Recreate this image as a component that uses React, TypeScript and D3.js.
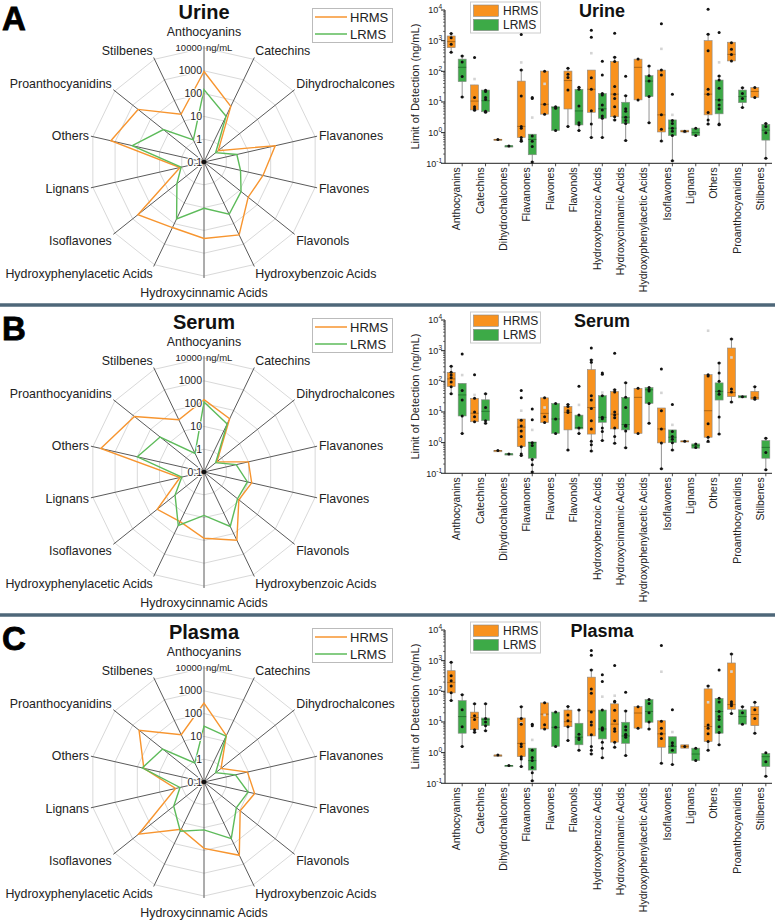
import React from "react";
import * as d3 from "d3";

const W = 775;
const H = 923;

const CATEGORIES = [
  "Anthocyanins", "Catechins", "Dihydrochalcones", "Flavanones", "Flavones", "Flavonols",
  "Hydroxybenzoic Acids", "Hydroxycinnamic Acids", "Hydroxyphenylacetic Acids", "Isoflavones",
  "Lignans", "Others", "Proanthocyanidins", "Stilbenes",
];
const METHODS = ["HRMS", "LRMS"];
const PANEL_LETTERS = ["A", "B", "C"];
const PANEL_TITLES = ["Urine", "Serum", "Plasma"];
const RADAR_TICKS = [0.1, 1, 10, 100, 1000, 10000];
const RADAR_TICK_LABELS = ["0.1", "1", "10", "100", "1000", "10000"];
const LOG_TICKS = [0.1, 1, 10, 100, 1000, 10000];
const LOG_TICK_EXP = ["-1", "0", "1", "2", "3", "4"];

// Radar values (ng/mL)
const URINE_RADAR_HRMS = [930, 51, 0.63, 160, 45, 30, 355, 225, 155, 510, 1.2, 1550, 500, 21];
const URINE_RADAR_LRMS = [150, 17, 0.45, 3, 4.4, 12, 35, 10.7, 59, 3.3, 1.07, 170, 19, 1.2];
const SERUM_RADAR_HRMS = [150, 39, 0.53, 10, 14, 9, 210, 81, 26, 42, 1.2, 4400, 800, 35];
const SERUM_RADAR_LRMS = [117, 22, 0.45, 2.8, 9, 7.6, 45, 8, 40, 4.2, 1.0, 100, 29, 0.8];
const PLASMA_RADAR_HRMS = [290, 18, 0.9, 9, 19, 10.7, 370, 81, 20, 470, 1.9, 51, 440, 20];
const PLASMA_RADAR_LRMS = [28, 17, 0.45, 2.6, 9.6, 6.5, 57, 12.6, 25, 5, 1.2, 60, 21, 0.85];

// Box stats: [whiskerLow, q1, median, q3, whiskerHigh]
const URINE_HRMS_BOX = [
  [415, 590, 930, 1420, 1700], [5.4, 5.5, 10.7, 36, 36], [0.6, 0.6, 0.6, 0.6, 0.6],
  [0.52, 0.69, 1.6, 48, 110], [4, 4, 8.4, 102, 102], [1.6, 5.9, 50, 102, 125],
  [0.7, 4.6, 26, 110, 110], [2.6, 3.3, 18, 210, 290], [11.7, 11.7, 135, 250, 250],
  [0.53, 1.05, 3.8, 110, 110], [1.0, 1.05, 1.1, 1.2, 1.2], [1.9, 3.8, 18, 1000, 1620],
  [218, 218, 357, 890, 890], [14, 14, 22, 29.5, 29.5],
];
const URINE_HRMS_PTS = [
  [1700, 1250, 760, 415], [280, 14, 7, 6, 5.4], [0.6], [1580, 110, 15.8, 1.6, 1.4, 0.7, 0.58, 0.52],
  [100, 8.4, 4], [125, 81, 63, 24.5, 1.6], [2180, 1280, 62, 26, 5.2, 1.9, 0.7],
  [1730, 290, 210, 32, 18, 13, 7, 3.3, 2.6], [250, 11.7], [3560, 110, 76, 3.8, 1.3, 0.53],
  [1.1], [10500, 1620, 470, 26, 18, 4.5, 2.6, 1.9], [850, 520, 357, 218], [29.5, 14],
];
const URINE_HRMS_MEAN = [null, 56, null, 195, 39, null, 390, null, null, 540, null, null, null, null];
const URINE_LRMS_BOX = [
  [14.5, 46, 135, 250, 316], [4.6, 4.8, 11, 24.5, 24.5], [0.37, 0.37, 0.37, 0.37, 0.37],
  [0.11, 0.19, 0.6, 0.89, 0.89], [1.17, 1.17, 6.5, 7, 7], [1.17, 1.78, 5.1, 26, 30],
  [0.7, 2.95, 6, 19, 19], [0.55, 2.0, 3.2, 9.8, 16], [2.1, 15, 48, 72, 148],
  [0.12, 0.8, 1.4, 2.6, 2.6], [0.8, 0.8, 1.0, 1.4, 1.4], [1.8, 4.1, 11.7, 52, 70],
  [6.6, 9.5, 15, 24.5, 29], [0.145, 0.57, 1.2, 1.87, 2.0],
];
const URINE_LRMS_PTS = [
  [316, 200, 68, 14.5], [24, 22, 14, 12, 5, 4.6], [0.37], [14, 13, 0.78, 0.52, 0.35, 0.11],
  [7, 6.2, 1.17], [30, 26, 7.4, 2.1, 1.8, 1.17], [213, 76, 19, 17, 8, 5.5, 3.5, 2.95, 0.7],
  [69, 16, 6, 5, 3.2, 2.5, 2.0, 0.55], [148, 72, 48, 15, 2.1], [17.8, 2.5, 2, 1.4, 1.1, 0.8, 0.12],
  [1.4, 0.8], [1830, 70, 52, 28, 11.7, 8, 6, 1.9, 1.8], [29, 19, 13, 6.6], [2.0, 1.6, 1.0, 0.145],
];
const URINE_LRMS_MEAN = [null, null, null, 3.1, null, null, null, null, null, 3.8, null, 196, null, null];

const SERUM_HRMS_BOX = [
  [39, 67, 120, 196, 310], [4.8, 4.8, 9.1, 28, 28], [0.55, 0.55, 0.55, 0.55, 0.55],
  [0.38, 0.74, 3.2, 5.9, 5.9], [4.5, 4.5, 9, 29, 29], [0.57, 2.6, 9.7, 15, 17.5],
  [0.53, 1.9, 14, 240, 500], [0.95, 2.8, 8.5, 47, 53], [2.0, 2.0, 30, 59, 59],
  [0.14, 0.98, 2.8, 13.5, 13.5], [1.05, 1.05, 1.1, 1.15, 1.15], [1.02, 1.5, 11, 165, 165],
  [21, 31.6, 43, 1220, 2400], [26, 26, 29, 47, 67],
];
const SERUM_HRMS_PTS = [
  [310, 196, 160, 130, 95, 67, 39], [165, 28, 10, 7, 4.8], [0.55], [50, 29, 5.4, 3.5, 2.4, 1.6, 0.74, 0.43, 0.38],
  [29, 7, 4.5], [17.5, 15, 11, 9.7, 0.57], [1220, 500, 416, 34, 24.6, 13, 5.2, 2.8, 1.1, 0.85, 0.53],
  [820, 53, 45, 10, 8, 6.5, 3, 1.6, 0.95], [59, 2.0], [250, 11, 2.8, 0.98, 0.14],
  [1.1], [165, 150, 4.1, 1.5, 1.1], [2400, 56, 45, 21], [67, 29, 26],
];
const SERUM_HRMS_MEAN = [null, 36, null, 11, 14, null, null, null, null, 42, null, 4470, 600, null];
const SERUM_LRMS_BOX = [
  [2.0, 7.4, 36, 86, 86], [4.3, 5.2, 10.5, 25, 39], [0.43, 0.43, 0.43, 0.43, 0.43],
  [0.11, 0.31, 1.0, 1.05, 1.05], [2.0, 2.0, 5.9, 19, 19], [2.0, 2.8, 3.1, 7.9, 7.9],
  [1.17, 4.6, 6.7, 34, 34], [0.68, 2.6, 3.9, 30, 89], [4.3, 19, 53, 63, 63],
  [0.57, 1.0, 1.5, 2.6, 2.6], [0.66, 0.66, 0.8, 0.91, 0.91], [1.9, 24.5, 47, 89, 396],
  [29, 29, 31.5, 34, 34], [0.13, 0.31, 0.7, 1.17, 1.4],
];
const SERUM_LRMS_PTS = [
  [780, 50, 24.6, 7.4, 2.0], [39, 14, 5.2, 4.3], [0.43], [12.4, 5.6, 1.0, 0.8, 0.28, 0.19, 0.11],
  [19, 5.9, 2.0], [69, 7.9, 3.0, 2.0], [187, 170, 34, 6.7, 6, 3, 2.3, 1.17],
  [89, 30, 14, 3.7, 3.4, 2.4, 0.68], [63, 53, 48, 19, 4.3], [17.5, 2.3, 1.6, 1.3, 1.0, 0.57],
  [0.91, 0.7], [396, 186, 100, 47, 38, 6.8, 1.9], [31.5], [1.4, 0.48, 0.13],
];
const SERUM_LRMS_MEAN = [160, null, null, 2.6, null, 17, 43, null, null, 3.8, null, null, null, null];

const PLASMA_HRMS_BOX = [
  [50, 89, 196, 470, 880], [4.6, 5.6, 14, 21, 39], [0.83, 0.83, 0.83, 0.83, 0.83],
  [0.35, 0.74, 2.0, 13.5, 31.6], [5.9, 5.9, 18, 42, 42], [2.5, 7, 10.2, 24.5, 32],
  [0.91, 3.5, 23, 290, 500], [1.5, 2.2, 8.5, 39, 39], [6.3, 6.3, 19.6, 31.6, 31.6],
  [0.45, 1.5, 4.1, 11, 11], [1.4, 1.4, 1.6, 1.8, 1.8], [1.2, 2.3, 7.1, 120, 150],
  [19, 26, 37, 840, 1650], [4.3, 7.6, 17.5, 31.6, 44],
];
const PLASMA_HRMS_PTS = [
  [880, 320, 220, 150, 90, 50], [39, 16, 12, 5.6, 4.6], [0.83], [31.6, 13, 8.5, 1.9, 1.6, 0.74, 0.62, 0.35],
  [42, 8.1, 5.9], [32, 17, 11, 7, 2.5], [2130, 1500, 500, 120, 86, 21, 10, 8, 3.8, 1.6, 1.2, 0.91],
  [690, 47, 45, 24, 11, 6, 5, 2.2, 1.5], [31.6, 6.3], [3100, 10.5, 6.2, 4.1, 2.9, 0.45],
  [1.6], [150, 8, 6.3, 4.1, 2.3, 1.2], [1650, 46, 39, 34, 19], [44, 25, 13, 4.3],
];
const PLASMA_HRMS_MEAN = [null, null, null, 9, 17, null, null, 72, null, 436, null, 44, 440, null];
const PLASMA_LRMS_BOX = [
  [1.6, 4.3, 15, 50, 78], [5.2, 7.6, 12, 13.5, 39], [0.38, 0.38, 0.38, 0.38, 0.38],
  [0.12, 0.27, 0.55, 1.4, 1.4], [1.6, 1.6, 6.7, 21, 21], [1.2, 1.8, 3.2, 9.1, 24.5],
  [0.68, 2.8, 5.9, 24.5, 24.5], [0.8, 2.0, 3.5, 9.8, 23], [5.9, 9.8, 22, 54, 54],
  [0.41, 0.95, 1.6, 3.3, 3.3], [0.55, 0.55, 0.9, 1.4, 1.4], [1.8, 4.3, 22, 59, 59],
  [8.5, 8.5, 15, 25, 31.6], [0.17, 0.35, 0.74, 0.95, 0.95],
];
const PLASMA_LRMS_PTS = [
  [78, 25, 7, 1.6], [39, 13, 10, 7.6, 5.2], [0.38], [8.5, 7.5, 1.2, 0.7, 0.55, 0.33, 0.22, 0.12],
  [21, 6.7, 1.6], [24.5, 4, 3, 2.7, 1.2], [350, 208, 24.5, 6.5, 5.9, 5.5, 2.2, 1.4, 0.68],
  [93, 23, 7, 5.5, 4, 3.7, 3.2, 0.8], [54, 40, 20, 10, 5.9], [25, 2.1, 1.7, 1.2, 0.41],
  [1.4, 0.55], [500, 59, 45, 22, 15, 12, 7, 4.5, 1.8], [31.6, 20, 8.5], [1.0, 0.5, 0.17],
];
const PLASMA_LRMS_MEAN = [null, null, null, 2.6, null, null, 67, null, null, 4.7, null, null, null, null];

const PANELS = [
  { radar: [URINE_RADAR_HRMS, URINE_RADAR_LRMS], box: [URINE_HRMS_BOX, URINE_LRMS_BOX], pts: [URINE_HRMS_PTS, URINE_LRMS_PTS], mean: [URINE_HRMS_MEAN, URINE_LRMS_MEAN] },
  { radar: [SERUM_RADAR_HRMS, SERUM_RADAR_LRMS], box: [SERUM_HRMS_BOX, SERUM_LRMS_BOX], pts: [SERUM_HRMS_PTS, SERUM_LRMS_PTS], mean: [SERUM_HRMS_MEAN, SERUM_LRMS_MEAN] },
  { radar: [PLASMA_RADAR_HRMS, PLASMA_RADAR_LRMS], box: [PLASMA_HRMS_BOX, PLASMA_LRMS_BOX], pts: [PLASMA_HRMS_PTS, PLASMA_LRMS_PTS], mean: [PLASMA_HRMS_MEAN, PLASMA_LRMS_MEAN] },
];

const FONT = "'Liberation Sans', Arial, Helvetica, sans-serif";
const RADAR_COLORS = ["#f7952f", "#5dbb5a"];
const BOX_FILL = ["#f8921e", "#3daa47"];
const BOX_MED = ["#9a5a10", "#1f6b28"];
const PANEL_H = 310;

const N = CATEGORIES.length;
const STEP = (2 * Math.PI) / N;

function Radar({ values }: { values: number[][] }) {
  const cx = 204, cy = 162;
  const r = d3.scaleLog().domain([0.1, 10000]).range([0, 114]);
  const ang = (i: number) => i * STEP;
  const ringPath = (v: number) => {
    const pts = CATEGORIES.map((_, i) => [cx + r(v) * Math.sin(ang(i)), cy - r(v) * Math.cos(ang(i))]);
    return "M" + pts.map((p) => p.join(",")).join("L") + "Z";
  };
  const line = d3
    .lineRadial<number>()
    .angle((_, i) => ang(i))
    .radius((d) => r(d))
    .curve(d3.curveLinearClosed);
  return (
    <g>
      {RADAR_TICKS.filter((t) => t > 0.1).map((t) => (
        <path key={t} d={ringPath(t)} fill="none" stroke="#d9d9d9" strokeWidth={1} />
      ))}
      {CATEGORIES.map((c, i) => {
        const s = Math.sin(ang(i)), co = Math.cos(ang(i));
        return (
          <line key={c} x1={cx} y1={cy} x2={cx + 116 * s} y2={cy - 116 * co} stroke="#5a5a5a" strokeWidth={1} />
        );
      })}
      {values.map((vals, k) => (
        <path
          key={k}
          d={line(vals) || ""}
          transform={`translate(${cx},${cy})`}
          fill="none"
          stroke={RADAR_COLORS[k]}
          strokeWidth={1.4}
        />
      ))}
      <circle cx={cx} cy={cy} r={2.3} fill="#111" />
      {RADAR_TICKS.map((t, i) => (
        <text
          key={t}
          x={cx - 2}
          y={cy - r(t)}
          dy="0.35em"
          textAnchor="end"
          fontSize={i === 5 ? 9.5 : 10.5}
          fill="#222"
          fontFamily={FONT}
          stroke="#fff"
          strokeWidth={2}
          paintOrder="stroke"
        >
          {RADAR_TICK_LABELS[i]}
        </text>
      ))}
      <text x={cx + 2} y={cy - r(10000)} dy="0.35em" fontSize={9.5} fill="#222" fontFamily={FONT}>
        ng/mL
      </text>
      {CATEGORIES.map((c, i) => {
        const s = Math.sin(ang(i)), co = Math.cos(ang(i));
        const R = 118;
        let x = cx + R * s;
        let y = cy - R * co;
        const anchor = s > 0.1 ? "start" : s < -0.1 ? "end" : "middle";
        let dy = "0.35em";
        if (Math.abs(s) < 0.1) {
          if (co > 0) { y = cy - 126; dy = "0"; } else { y = cy + 126; dy = "0.75em"; }
        } else if (co > 0.5) {
          dy = "-0.05em";
        } else if (co < -0.5) {
          dy = "0.8em";
        }
        return (
          <text key={c} x={x} y={y} dy={dy} textAnchor={anchor} fontSize={12.4} fill="#222" fontFamily={FONT}>
            {c}
          </text>
        );
      })}
      <g>
        <rect x={312.5} y={8.5} width={80} height={34} fill="#fff" stroke="#bbb" strokeWidth={1} />
        {METHODS.map((m, k) => (
          <g key={m}>
            <line x1={315} x2={347} y1={17 + k * 17} y2={17 + k * 17} stroke={RADAR_COLORS[k]} strokeWidth={1.5} />
            <text x={350} y={17 + k * 17} dy="0.36em" fontSize={13} fill="#222" fontFamily={FONT}>
              {m}
            </text>
          </g>
        ))}
      </g>
    </g>
  );
}

function BoxPlot({ box, pts, mean, title }: any) {
  const x0 = 445, x1 = 772;
  const yTop = 10, yBot = 163.3;
  const x = d3.scaleBand<string>().domain(CATEGORIES).range([x0, x1]).paddingInner(0).paddingOuter(0);
  const y = d3.scaleLog().domain([0.1, 10000]).range([yBot, yTop]);
  const bw = x.bandwidth();
  const minor: number[] = [];
  LOG_TICKS.slice(0, -1).forEach((d) => {
    for (let m = 2; m <= 9; m++) minor.push(d * m);
  });
  const offs = [-5.5, 5.5];
  return (
    <g fontFamily={FONT}>
      <text x={602} y={16.5} textAnchor="middle" fontSize={18} fontWeight="bold" fill="#111">
        {title}
      </text>
      {/* legend */}
      <rect x={470.5} y={2} width={70} height={31} fill="#fff" stroke="#ccc" strokeWidth={1} />
      {METHODS.map((m, k) => (
        <g key={m}>
          <rect x={473.5} y={5 + k * 14.3} width={25} height={11.3} fill={BOX_FILL[k]} stroke="#888" strokeWidth={0.6} />
          <text x={503} y={10.7 + k * 14.3} dy="0.36em" fontSize={12} fill="#222">
            {m}
          </text>
        </g>
      ))}
      {/* axes */}
      <line x1={x0} x2={x0} y1={yTop} y2={yBot} stroke="#222" strokeWidth={1} />
      <line x1={x0} x2={x1} y1={yBot} y2={yBot} stroke="#222" strokeWidth={1} />
      {LOG_TICKS.map((t, i) => (
        <g key={t}>
          <line x1={x0 - 4} x2={x0} y1={y(t)} y2={y(t)} stroke="#222" strokeWidth={1} />
          <text x={x0 - 3} y={y(t)} dy="0.38em" textAnchor="end" fontSize={9} fill="#222">
            10
            <tspan fontSize={6.5} dy={-4}>
              {LOG_TICK_EXP[i]}
            </tspan>
          </text>
        </g>
      ))}
      {minor.map((t) => (
        <line key={t} x1={x0 - 2} x2={x0} y1={y(t)} y2={y(t)} stroke="#222" strokeWidth={0.6} />
      ))}
      <text
        transform={`translate(415,${(yTop + yBot) / 2}) rotate(-90)`}
        textAnchor="middle"
        dy="0.35em"
        fontSize={11}
        fill="#222"
      >
        Limit of Detection (ng/mL)
      </text>
      {CATEGORIES.map((c) => {
        const cx = (x(c) as number) + bw / 2;
        return (
          <g key={c}>
            <line x1={cx + 5.5} x2={cx + 5.5} y1={yBot} y2={yBot + 3} stroke="#222" strokeWidth={0.8} />
            <text
              transform={`translate(${cx},${yBot + 4}) rotate(-90)`}
              textAnchor="end"
              dy="0.35em"
              fontSize={10.5}
              fill="#222"
            >
              {c}
            </text>
          </g>
        );
      })}
      {METHODS.map((m, k) =>
        CATEGORIES.map((c, i) => {
          const [lo, q1, med, q3, hi] = box[k][i];
          const cx = (x(c) as number) + bw / 2 + offs[k];
          const top = y(q3), bot = y(q1);
          return (
            <g key={m + c}>
              <line x1={cx} x2={cx} y1={y(hi)} y2={y(lo)} stroke="#777" strokeWidth={0.8} />
              {hi > q3 && <line x1={cx - 2} x2={cx + 2} y1={y(hi)} y2={y(hi)} stroke="#777" strokeWidth={0.8} />}
              {lo < q1 && <line x1={cx - 2} x2={cx + 2} y1={y(lo)} y2={y(lo)} stroke="#777" strokeWidth={0.8} />}
              <rect
                x={cx - 4}
                y={top}
                width={8}
                height={Math.max(1.2, bot - top)}
                fill={BOX_FILL[k]}
                stroke="#8a8a8a"
                strokeWidth={0.6}
              />
              <line x1={cx - 4} x2={cx + 4} y1={y(med)} y2={y(med)} stroke={BOX_MED[k]} strokeWidth={0.8} />
              {mean[k][i] != null && (
                <rect x={cx - 1.3} y={y(mean[k][i]) - 1.3} width={2.6} height={2.6} fill="#d4d4d4" />
              )}
              {pts[k][i].map((p: number, j: number) => (
                <circle key={j} cx={cx} cy={y(p)} r={1.5} fill="#111" />
              ))}
            </g>
          );
        })
      )}
    </g>
  );
}

export default function App() {
  return (
    <svg
      width={W}
      height={H}
      viewBox={`0 0 ${W} ${H}`}
      style={{ position: "absolute", left: 0, top: 0, background: "#fff" }}
    >
      <rect x={0} y={0} width={W} height={H} fill="#fff" />
      {PANELS.map((p, k) => (
        <g key={k} transform={`translate(0,${k * PANEL_H})`} fontFamily={FONT}>
          <text x={2} y={30} fontSize={33} fontWeight="bold" fill="#000" stroke="#000" strokeWidth={0.8}>
            {PANEL_LETTERS[k]}
          </text>
          <text x={204} y={19} textAnchor="middle" fontSize={20} fontWeight="bold" fill="#111">
            {PANEL_TITLES[k]}
          </text>
          <Radar values={p.radar} />
          <BoxPlot box={p.box} pts={p.pts} mean={p.mean} title={PANEL_TITLES[k]} />
        </g>
      ))}
      {[1, 2].map((k) => (
        <line key={k} x1={0} x2={W} y1={k * PANEL_H - 5} y2={k * PANEL_H - 5} stroke="#4e6779" strokeWidth={3.5} />
      ))}
    </svg>
  );
}
